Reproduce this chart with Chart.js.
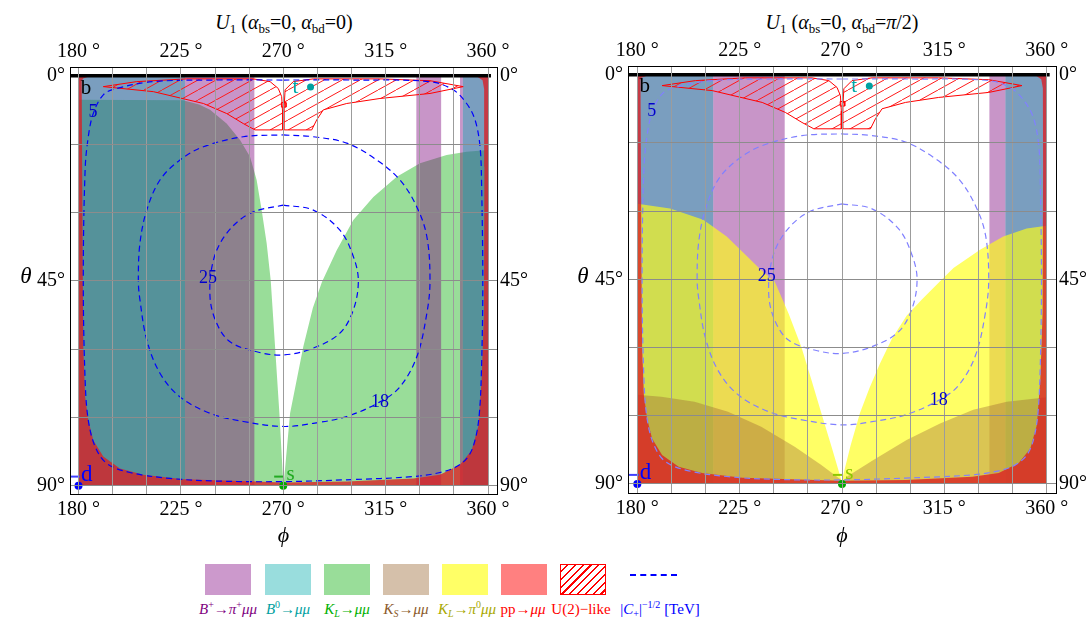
<!DOCTYPE html>
<html>
<head>
<meta charset="utf-8">
<script src="https://cdn.jsdelivr.net/npm/chart.js@4.4.0/dist/chart.umd.min.js"></script>
<style>
  body { margin: 0; background: #fff; }
  #wrap { position: relative; width: 1087px; height: 617px; overflow: hidden; font-family: 'Liberation Serif', 'Times New Roman', serif; }
  canvas { position: absolute; top: 0; }
  .ttl { position: absolute; top: 10px; width: 400px; text-align: center; font-size: 20px; line-height: 24px; color: #000; }
  .ttl sub { font-size: 13px; line-height: 0; vertical-align: -4px; }
  .ylab { position: absolute; top: 262px; width: 30px; text-align: center; font-size: 23px; font-style: italic; line-height: 28px; }
  .box { position: absolute; top: 564px; width: 46px; height: 31px; box-sizing: border-box; }
  .lab { position: absolute; top: 600px; width: 120px; text-align: center; font-size: 15px; line-height: 18px; white-space: nowrap; }
  .lab sup { font-size: 10px; line-height: 0; vertical-align: 6px; }
  .lab sub { font-size: 10px; line-height: 0; vertical-align: -3px; }
</style>
</head>
<body>
<div id="wrap">
  <div class="ttl" style="left:84px"><i>U</i><sub>1</sub> (<i>α</i><sub>bs</sub>=0, <i>α</i><sub>bd</sub>=0)</div>
  <div class="ttl" style="left:642px"><i>U</i><sub>1</sub> (<i>α</i><sub>bs</sub>=0, <i>α</i><sub>bd</sub>=<i>π</i>/2)</div>
  <canvas id="left" width="545" height="550" style="left:0"></canvas>
  <canvas id="right" width="527" height="550" style="left:560px"></canvas>
  <div class="ylab" style="left:11px">θ</div>
  <div class="ylab" style="left:568px">θ</div>

  <div class="box" style="left:205px;background:#cc99cc"></div>
  <div class="box" style="left:265px;background:#99dddd"></div>
  <div class="box" style="left:324px;background:#99dd99"></div>
  <div class="box" style="left:383px;background:#d5c0aa"></div>
  <div class="box" style="left:442px;background:#ffff66"></div>
  <div class="box" style="left:501px;background:#ff8080"></div>
  <div class="box" style="left:560px;border:1.5px solid #f00;background:repeating-linear-gradient(135deg,#fff 0 4px,#f00 4px 5.5px)"></div>
  <div class="box" style="left:630px;top:574px;height:0;width:47px;border-top:2px dashed #0000ff"></div>

  <div class="lab" style="left:168px;color:#800080"><i>B</i><sup>+</sup>→<i>π</i><sup>+</sup><i>μμ</i></div>
  <div class="lab" style="left:228px;color:#00a0a0"><i>B</i><sup>0</sup>→<i>μμ</i></div>
  <div class="lab" style="left:287px;color:#00b000"><i>K</i><sub><i>L</i></sub>→<i>μμ</i></div>
  <div class="lab" style="left:346px;color:#8b5a2b"><i>K</i><sub><i>S</i></sub>→<i>μμ</i></div>
  <div class="lab" style="left:407px;color:#a8a800"><i>K</i><sub><i>L</i></sub>→<i>π</i><sup>0</sup><i>μμ</i></div>
  <div class="lab" style="left:463px;color:#ff0000">pp→<i>μμ</i></div>
  <div class="lab" style="left:521px;color:#ff0000">U(2)−like</div>
  <div class="lab" style="left:600px;color:#0000ff">|<i>C</i><sub>+</sub>|<sup>−1/2</sup> [TeV]</div>
</div>

<script>
// axes
const phiGrid = [180, 195, 210, 225, 240, 255, 270, 285, 300, 315, 330, 345, 360];
const thetaGrid = [0, 15, 30, 45, 60, 75, 90];
const phiLabelled = [180, 225, 270, 315, 360];
const thetaLabelled = [0, 45, 90];

// inner edge of the pp -> mu mu excluded frame
const ppInner = [[181.4, 1.2], [181.6, 20], [181.9, 45], [182.1, 59.5], [182.9, 70.5], [184.3, 75.6], [186.5, 80],
  [190.9, 83.6], [198.2, 86.2], [208.5, 87.6], [226.1, 88.6], [258.3, 89.1], [270, 89.3], [298, 89.1], [327.2, 88.4],
  [338.9, 87.6], [347.7, 85.4], [352.8, 82.2], [355.7, 77], [357.2, 66.8], [358.2, 52.2], [358.4, 20], [358.3, 3],
  [357.6, 1.0], [355.5, 0.3], [184, 0.3], [182, 0.6]];

// U(2)-like region
const hatchLeft = [[190.9, 2.4], [205.6, 1.3], [227.6, 0.7], [256.8, 0.7], [264.2, 1.3], [267.8, 2.8], [269.3, 4.6],
  [269.7, 8], [269.7, 11.9], [257.6, 11.9], [252.4, 10.5], [245.1, 8.3], [234.9, 6.1], [212.9, 3.5], [190.9, 2.4]];
const hatchRight = [[270.4, 11.9], [270.4, 7], [270.8, 3.1], [274.4, 1.3], [283.2, 0.7], [312.5, 0.7], [334.5, 1.1],
  [349.1, 2.4], [334.5, 3.9], [312.5, 5.0], [297.9, 6.1], [287.6, 7.5], [284.7, 9.7], [282.5, 11.9], [270.4, 11.9]];
const hatchNotch = [[269.2, 5.9], [271.2, 5.9], [271.2, 6.9], [269.2, 6.9], [269.2, 5.9]];

// |C+|^-1/2 contours
const contour5 = [[270, 0.95], [300, 0.95], [334.5, 1.3], [344.7, 3.1], [350.6, 6.1], [354.3, 9.7], [356.5, 15.6],
  [357.2, 24.4], [357.7, 45.6], [357.2, 63.1], [356.2, 74.1], [354.3, 80], [351.3, 83.6], [346.2, 85.8], [338.9, 87.1],
  [327.2, 88], [297.9, 88.7], [270, 89.1], [242.2, 89.0], [220.2, 88.4], [202.6, 87.1], [192.4, 85.1], [187.3, 81.4],
  [184.3, 75.6], [182.9, 66.8], [182.1, 44.9], [182.9, 20.7], [184.3, 13.4], [186.5, 8.3], [190.9, 4.2], [196.8, 2.8],
  [212.9, 1.3], [240, 0.95], [270, 0.95]];
const contour18 = [[270, 13.0], [283.2, 13.4], [297.9, 14.8], [311.1, 18.5], [321.3, 22.9], [328.7, 28.8], [333.1, 35.3],
  [334.5, 45], [333.1, 52.2], [328.7, 61.7], [321.3, 68.3], [312.5, 71.6], [297.9, 74.8], [283.2, 76.3], [270, 77],
  [252.4, 75.9], [237.8, 74.1], [224.6, 70.5], [215.8, 65.3], [210, 58], [207, 49.2], [206.3, 45], [207, 36.8],
  [210, 29.5], [215.8, 22.9], [224.6, 18.5], [234.9, 15.6], [252.4, 13.4], [270, 13.0]];
const contour25 = [[270, 28.4], [283.2, 29.5], [294.9, 33.9], [300.8, 39.7], [303, 45], [300.8, 51.4], [294.9, 56.5],
  [283.2, 59.8], [270, 61.3], [258.3, 60.6], [246.6, 58.4], [240.7, 54.3], [237.8, 48.5], [239.3, 40.5], [245.1, 34.6],
  [255.4, 30.2], [270, 28.4]];
const contourLabels = ['5', '25', '18'];
const contourLabelAt = [[186.4, 8.0], [236.9, 44.4], [312.5, 71.6]];

// quark directions
const quarkLabels = ['b', 't', 'd', 's'];
const quarkLabelAt = [[183.3, 2.7], [275.3, 2.6], [183.6, 87.6], [273.2, 87.6]];
const dPoint = [[180, 90]];
const sPoint = [[270, 90]];
const tPoint = [[282, 2.5]];
const dBar = [[176.3, 88.0], [180.7, 88.0]];
const sBar = [[266.0, 88.0], [270.2, 88.0]];
const zeroLine = [[176.1, 0], [361.3, 0]];

// alpha_bd = 0
const klA1 = [[180, 5.3], [226, 5.4], [233, 6.3], [237.8, 7.5], [245.1, 10.5], [251, 14.1], [255.4, 17.8], [258.3, 22.9],
  [260.5, 29.5], [262.7, 36.8], [264.5, 45], [266.4, 59.5], [268.3, 74.1], [270, 89.5], [270, 90], [180, 90], [180, 5.3]];
const klB1 = [[270, 90], [270.2, 89.5], [273, 74.1], [278.8, 59.5], [283, 51], [287, 45.3], [293.5, 38.3], [300.8, 31.7],
  [309.6, 26.6], [319.9, 22.2], [330.1, 19.2], [341.8, 17.4], [350.6, 16.7], [360, 16.3], [360, 90], [270, 90]];
const b0Bands1 = [[180, 226.8], [348.9, 360]];
const bpBands1 = [[226.8, 257.3], [328.5, 339.4], [347.7, 348.9]];

// alpha_bd = pi/2
const b0Bands2 = [[180, 213.4], [341.8, 360]];
const bpBands2 = [[213.4, 244.8], [334.8, 341.8]];
const klpiA2 = [[180, 28.4], [194.4, 29.4], [209, 31.9], [219.3, 35.6], [228, 39.8], [234.5, 43], [240.4, 45.5],
  [246.5, 52.5], [252.1, 59.8], [256.5, 67], [260.9, 74.4], [265.5, 82], [269.7, 89.1], [270, 90], [180, 90], [180, 28.4]];
const klpiB2 = [[270, 90], [270, 89.1], [273.8, 81.5], [277.9, 74.4], [282, 69], [286.7, 63.5], [292, 58], [298.4, 53],
  [305, 49.5], [313, 45.5], [319, 42.5], [330.7, 38.5], [340.9, 35.6], [351.2, 33.8], [360, 33.2], [360, 90], [270, 90]];
const ksA2 = [[180, 70.4], [190.6, 70.8], [205.2, 71.9], [219.9, 74.1], [234.5, 77.4], [249.2, 81.8], [260.9, 85.8],
  [269.7, 89.1], [270, 90], [180, 90], [180, 70.4]];
const ksB2 = [[270, 90], [272.1, 88.4], [283.8, 84.7], [298.4, 80.3], [313.1, 76.7], [327.7, 73.7], [342.4, 71.9],
  [360, 70.9], [360, 90], [270, 90]];

const hatch = (() => {
  const c = document.createElement('canvas');
  c.width = 18; c.height = 10;
  const g = c.getContext('2d');
  g.strokeStyle = '#ff1a1a';
  g.lineWidth = 1;
  g.beginPath();
  for (const dx of [-18, 0, 18]) { g.moveTo(dx, 10); g.lineTo(dx + 18, 0); }
  g.stroke();
  return g.createPattern(c, 'repeat');
})();

const band = ([a, b]) => [[a, 0], [b, 0], [b, 90], [a, 90], [a, 0]];
const frame = [[180, 0], [360, 0], [360, 90], [180, 90], [180, 0], ...ppInner, ppInner[0], [180, 0]];

function area(data, color) {
  return { data, showLine: true, fill: 'shape', backgroundColor: color, borderColor: 'rgba(0,0,0,0)', borderWidth: 0, pointRadius: 0, tension: 0 };
}
function outline(data, color, width, fillColor) {
  return { data, showLine: true, fill: fillColor ? 'shape' : false, backgroundColor: fillColor || 'rgba(0,0,0,0)', borderColor: color, borderWidth: width, pointRadius: 0, tension: 0 };
}
function dashed(data, color) {
  return { data, showLine: true, fill: false, borderColor: color, borderWidth: 1.2, borderDash: [6, 4], pointRadius: 0, tension: 0.35 };
}
function dot(data, color, r) {
  return { data, showLine: false, pointRadius: r, pointBackgroundColor: color, pointBorderWidth: 0 };
}

function commonTop(contourColor, sColor) {
  return [
    area(frame, 'rgba(220,30,35,0.78)'),
    outline(hatchLeft, '#ff0000', 1, hatch),
    outline(hatchRight, '#ff0000', 1, hatch),
    outline(hatchNotch, '#ff0000', 1),
    dashed(contour5, contourColor),
    dashed(contour18, contourColor),
    dashed(contour25, contourColor),
    outline(zeroLine, '#000', 3.5),
    outline(dBar, '#4040ff', 2),
    outline(sBar, sColor, 2),
    dot(dPoint, '#0000ff', 4),
    dot(sPoint, '#00aa00', 4),
    dot(tPoint, '#00a0a0', 3.5)
  ];
}

function textPlugin(sColor) {
  return {
    id: 'marks',
    afterDraw(chart) {
      const { ctx, scales: { x, y } } = chart;
      ctx.save();
      ctx.textAlign = 'center';
      ctx.textBaseline = 'middle';
      ctx.font = '18px "Liberation Serif"';
      ctx.fillStyle = '#0000cc';
      contourLabels.forEach((t, i) => {
        ctx.fillText(t, x.getPixelForValue(contourLabelAt[i][0]), y.getPixelForValue(contourLabelAt[i][1]));
      });
      const colors = ['#000', '#00a8a8', '#0000ff', sColor];
      const sizes = [21, 21, 23, 21];
      quarkLabels.forEach((t, i) => {
        ctx.font = sizes[i] + 'px "Liberation Serif"';
        ctx.fillStyle = colors[i];
        ctx.fillText(t, x.getPixelForValue(quarkLabelAt[i][0]), y.getPixelForValue(quarkLabelAt[i][1]));
      });
      ctx.restore();
    }
  };
}

function scales(box, range) {
  const family = 'Liberation Serif';
  const tickFont = { family, size: 20 };
  const phiTicks = s => { s.ticks = phiGrid.map(v => ({ value: v })); };
  const thetaTicks = s => { s.ticks = thetaGrid.map(v => ({ value: v })); };
  const phiLabel = v => phiLabelled.includes(v) ? v + ' °' : '';
  const thetaLabel = v => thetaLabelled.includes(v) ? v + '°' : '';
  const border = { display: true, color: '#000', width: 1, z: 2 };
  return {
    x: {
      type: 'linear', position: 'bottom', min: range.x[0], max: range.x[1],
      afterBuildTicks: phiTicks, afterFit: s => { s.height = box.bottom; },
      grid: { color: '#9c9c9c', lineWidth: 1, drawTicks: false, z: 1 },
      border,
      ticks: { font: tickFont, color: '#000', padding: 4, autoSkip: false, maxRotation: 0, callback: phiLabel },
      title: { display: true, text: 'ϕ', color: '#000', font: { family, size: 22, style: 'italic' }, padding: { top: 0, bottom: 1 } }
    },
    x2: {
      type: 'linear', axis: 'x', position: 'top', min: range.x[0], max: range.x[1],
      afterBuildTicks: phiTicks, afterFit: s => { s.height = box.top; },
      grid: { display: false, drawTicks: false },
      border,
      ticks: { font: tickFont, color: '#000', padding: 3, autoSkip: false, maxRotation: 0, callback: phiLabel }
    },
    y: {
      type: 'linear', position: 'left', reverse: true, min: range.y[0], max: range.y[1],
      afterBuildTicks: thetaTicks, afterFit: s => { s.width = box.left; },
      grid: { color: c => (c.tick && c.tick.value === 0) ? 'rgba(0,0,0,0)' : '#8c8c8c', lineWidth: 1, drawTicks: false, z: 1 },
      border,
      ticks: { font: tickFont, color: '#000', padding: 5, autoSkip: false, callback: thetaLabel }
    },
    y2: {
      type: 'linear', axis: 'y', position: 'right', reverse: true, min: range.y[0], max: range.y[1],
      afterBuildTicks: thetaTicks, afterFit: s => { s.width = box.right; },
      grid: { display: false, drawTicks: false },
      border,
      ticks: { font: tickFont, color: '#000', padding: 3, autoSkip: false, callback: thetaLabel }
    }
  };
}

function makeChart(id, datasets, box, range, sColor) {
  datasets.forEach((d, i) => { d.order = -i; });
  return new Chart(document.getElementById(id), {
    type: 'scatter',
    data: { datasets },
    options: {
      responsive: false,
      animation: false,
      events: [],
      layout: { padding: 0 },
      plugins: { legend: { display: false }, tooltip: { enabled: false }, title: { display: false } },
      scales: scales(box, range)
    },
    plugins: [textPlugin(sColor)]
  });
}

// left panel
const leftSets = [
  area(klA1, '#99dd99'),
  area(klB1, '#99dd99'),
  ...b0Bands1.map(b => area(band(b), 'rgba(47,103,155,0.64)')),
  ...bpBands1.map(b => area(band(b), 'rgba(123,3,123,0.42)')),
  ...commonTop('#0000ff', '#22aa22')
];
makeChart('left', leftSets, { left: 70, right: 48, top: 67, bottom: 56 },
  { x: [176.26, 363.95], y: [-1.91, 91.82] }, '#22aa22');

// right panel
const rightSets = [
  ...b0Bands2.map(b => area(band(b), 'rgba(47,103,155,0.64)')),
  ...bpBands2.map(b => area(band(b), 'rgba(123,3,123,0.42)')),
  area(klpiA2, 'rgba(255,255,22,0.66)'),
  area(klpiB2, 'rgba(255,255,22,0.66)'),
  area(ksA2, 'rgba(150,90,50,0.35)'),
  area(ksB2, 'rgba(150,90,50,0.35)'),
  ...commonTop('#8080ff', '#8cc800')
];
makeChart('right', rightSets, { left: 68, right: 31, top: 66, bottom: 57 },
  { x: [175.91, 364.08], y: [-1.91, 91.98] }, '#8cc800');
</script>
</body>
</html>
